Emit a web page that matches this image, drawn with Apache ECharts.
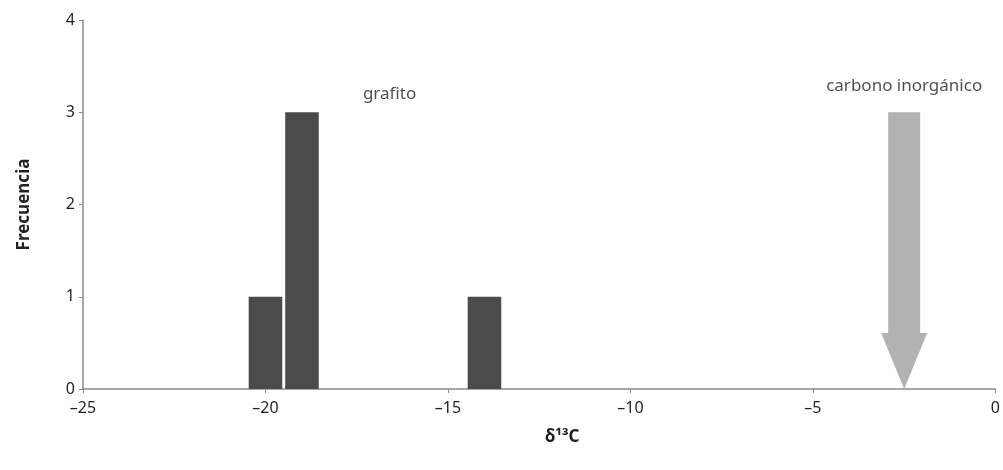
<!DOCTYPE html>
<html>
<head>
<meta charset="utf-8">
<style>
  html, body { margin: 0; padding: 0; background: #ffffff; }
  #chart { width: 1003px; height: 470px; }
</style>
<script src="https://cdn.jsdelivr.net/npm/echarts@6/dist/echarts.min.js"></script>
</head>
<body>
<div id="chart"></div>
<script>
// Histogram of δ13C values (graphite) plus the inorganic-carbon reference marker
const binCenters = [-20, -19, -14];
const binCounts = [1, 3, 1];
const xTicks = [-25, -20, -15, -10, -5, 0];
const yTicks = [0, 1, 2, 3, 4];
const arrowX = [-2.5];
const arrowTop = [3];
const labelGrafito = { text: 'grafito', x: -16.6, y: 3.2 };
const labelCarbono = { text: 'carbono inorgánico', x: -2.5, y: 3.28 };

const FONT = 'Noto Sans';
const TEXT = '#231f20';
const chart = echarts.init(document.getElementById('chart'), null, { renderer: 'canvas' });

const barData = binCenters.map((c, i) => [c, binCounts[i]]);
const arrowData = arrowX.map((x, i) => [x, arrowTop[i]]);

chart.setOption({
  animation: false,
  backgroundColor: '#ffffff',
  grid: { left: 83, right: 3, top: 20, bottom: 81, containLabel: false },
  xAxis: {
    type: 'value',
    min: xTicks[0], max: xTicks[xTicks.length - 1], interval: 5,
    name: 'δ¹³C',
    nameLocation: 'middle',
    nameGap: 40,
    nameTextStyle: { fontFamily: FONT, fontWeight: 'bold', fontSize: 17, color: TEXT, padding: [0, 0, 0, 46] },
    axisLine: { onZero: false, lineStyle: { color: '#8a8a8a', width: 1.5 } },
    axisTick: { show: true, length: 4, lineStyle: { color: '#8a8a8a' } },
    axisLabel: {
      margin: 11, fontFamily: FONT, fontSize: 16, color: TEXT,
      formatter: v => (v < 0 ? '\u2013' + Math.abs(v) : String(v))
    },
    splitLine: { show: false }
  },
  yAxis: {
    type: 'value',
    min: yTicks[0], max: yTicks[yTicks.length - 1], interval: 1,
    name: 'Frecuencia',
    nameLocation: 'middle',
    nameGap: 50,
    nameTextStyle: { fontFamily: FONT, fontWeight: 'bold', fontSize: 17, color: TEXT },
    axisLine: { show: true, onZero: false, lineStyle: { color: '#8a8a8a', width: 1.5 } },
    axisTick: { show: true, length: 4, lineStyle: { color: '#8a8a8a' } },
    axisLabel: { margin: 8, fontFamily: FONT, fontSize: 16, color: TEXT },
    splitLine: { show: false }
  },
  series: [
    {
      type: 'custom',
      name: 'grafito',
      data: barData,
      renderItem: function (params, api) {
        const c = api.value(0), n = api.value(1);
        const half = 0.46;
        const p0 = api.coord([c - half, n]);
        const p1 = api.coord([c + half, 0]);
        return {
          type: 'rect',
          shape: { x: p0[0], y: p0[1], width: p1[0] - p0[0], height: p1[1] - p0[1] },
          style: { fill: '#4b4b4b' }
        };
      }
    },
    {
      type: 'custom',
      name: 'carbono inorgánico',
      data: arrowData,
      renderItem: function (params, api) {
        const x = api.value(0), top = api.value(1);
        const pTop = api.coord([x, top]);
        const pTip = api.coord([x, 0]);
        const cx = pTop[0];
        const shaft = 16, head = 23, headLen = 56;
        const yHead = pTip[1] - headLen;
        return {
          type: 'polygon',
          shape: {
            points: [
              [cx - shaft, pTop[1]], [cx + shaft, pTop[1]],
              [cx + shaft, yHead], [cx + head, yHead],
              [cx, pTip[1]],
              [cx - head, yHead], [cx - shaft, yHead]
            ]
          },
          style: { fill: '#b2b2b2' }
        };
      }
    },
    {
      type: 'scatter',
      symbolSize: 0,
      silent: true,
      data: [
        { value: [labelGrafito.x, labelGrafito.y], name: labelGrafito.text },
        { value: [labelCarbono.x, labelCarbono.y], name: labelCarbono.text }
      ],
      label: {
        show: true, position: 'inside',
        formatter: p => p.name,
        fontFamily: FONT, fontSize: 17, color: TEXT
      }
    }
  ]
});
</script>
</body>
</html>
